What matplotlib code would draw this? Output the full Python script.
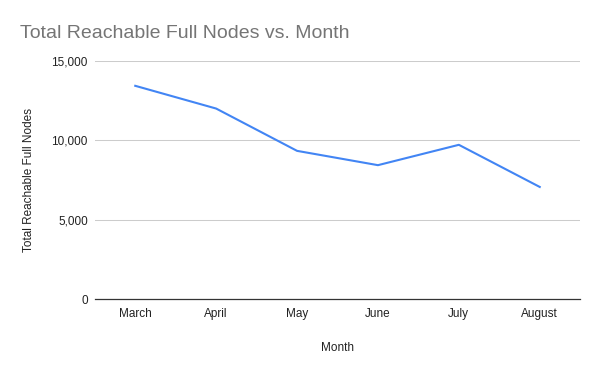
import matplotlib.pyplot as plt
from matplotlib.ticker import FuncFormatter

plt.rcParams['font.family'] = ['Liberation Sans', 'DejaVu Sans']

months = ["March", "April", "May", "June", "July", "August"]
nodes = [13430, 12000, 9340, 8440, 9720, 7070]
y_ticks = [0, 5000, 10000, 15000]

fig = plt.figure(figsize=(6, 3.71), dpi=100)
ax = fig.add_axes([0.158, 0.193, 0.809, 0.643])

x = list(range(len(months)))
ax.plot(x, nodes, color="#4285F4", linewidth=1.5, solid_joinstyle="round", zorder=3)

ax.set_xlim(-0.5, len(months) - 0.5)
ax.set_ylim(0, 15000)
ax.set_yticks(y_ticks)
ax.yaxis.set_major_formatter(FuncFormatter(lambda v, p: f"{int(v):,}"))
ax.set_xticks(x)
ax.set_xticklabels(months)

ax.grid(axis="y", color="#cccccc", linewidth=0.75)
ax.set_axisbelow(True)
for s in ["top", "right", "left"]:
    ax.spines[s].set_visible(False)
ax.spines["bottom"].set_color("#333333")
ax.spines["bottom"].set_linewidth(0.9)
ax.tick_params(axis="both", length=0, labelsize=8.5, colors="#222222")
ax.tick_params(axis="y", pad=5)
ax.tick_params(axis="x", pad=6)

ax.set_xlabel("Month", fontsize=8.5, color="#222222", labelpad=16)
ax.set_ylabel("Total Reachable Full Nodes", fontsize=8.5, color="#222222", labelpad=12)

fig.text(0.033, 0.91, "Total Reachable Full Nodes vs. Month", fontsize=14,
         color="#757575", ha="left", va="center")

fig.savefig("out.png", dpi=100)
